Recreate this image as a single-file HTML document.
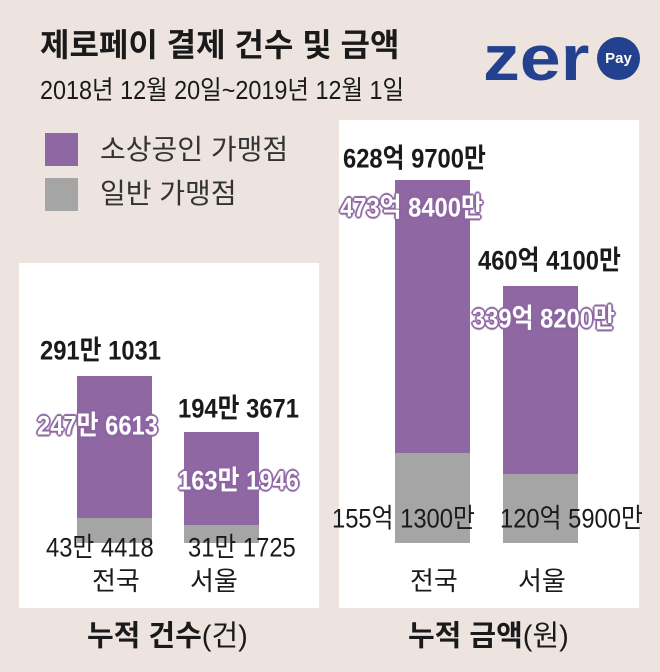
<!DOCTYPE html>
<html><head><meta charset="utf-8"><style>
body{margin:0;width:660px;height:672px;background:#ede4df;position:relative;overflow:hidden;font-family:"Liberation Sans","Noto Sans CJK KR",sans-serif;color:#1a1a1a}
div{position:absolute}
.t{white-space:nowrap;transform-origin:0 50%;line-height:1;transform:translateY(-50%)}
.s{transform:translateY(-50%) scaleX(.88)}
.p{background:#8e67a3}.g{background:#a5a5a5}
.pl{color:#fff;font-weight:bold;text-shadow:0 0 2px #8e67a3,0 0 2px #8e67a3,2px 0 1px #8e67a3,-2px 0 1px #8e67a3,0 2px 1px #8e67a3,0 -2px 1px #8e67a3,1px 1px 1px #8e67a3,-1px -1px 1px #8e67a3,1px -1px 1px #8e67a3,-1px 1px 1px #8e67a3;font-size:27px}
.b{font-weight:bold;font-size:27px}
.n{font-size:27px}
</style></head><body>
<div class="t" style="left:40px;top:45px;font-size:32px;font-weight:bold">제로페이 결제 건수 및 금액</div>
<div class="t" style="left:40px;top:90px;font-size:26px;transform:translateY(-50%) scaleX(.9)">2018년 12월 20일~2019년 12월 1일</div>
<div class="t" style="left:483px;top:58px;font-size:64px;font-weight:bold;color:#23418f;transform:translateY(-50%) scaleX(1.15)">zer</div>
<div style="left:597px;top:37px;width:43px;height:43px;border-radius:50%;background:#23418f;color:#fff;font-size:15px;font-weight:bold;text-align:center;line-height:43px">Pay</div>
<div class="p" style="left:45px;top:133px;width:33px;height:33px"></div>
<div class="g" style="left:45px;top:178px;width:33px;height:33px"></div>
<div class="t" style="left:100px;top:150px;font-size:28px;color:#333">소상공인 가맹점</div>
<div class="t" style="left:100px;top:194px;font-size:28px;color:#333">일반 가맹점</div>
<div style="left:19px;top:263px;width:300px;height:345px;background:#fff"></div>
<div style="left:339px;top:120px;width:300px;height:488px;background:#fff"></div>
<div class="p" style="left:77px;top:376px;width:75px;height:142px"></div>
<div class="g" style="left:77px;top:518px;width:75px;height:25px"></div>
<div class="p" style="left:184px;top:432px;width:75px;height:93px"></div>
<div class="g" style="left:184px;top:525px;width:75px;height:18px"></div>
<div class="p" style="left:395px;top:180px;width:75px;height:273px"></div>
<div class="g" style="left:395px;top:453px;width:75px;height:90px"></div>
<div class="p" style="left:503px;top:286px;width:75px;height:188px"></div>
<div class="g" style="left:503px;top:474px;width:75px;height:69px"></div>
<div class="t b s" style="left:40px;top:351px">291만 1031</div>
<div class="t pl s" style="left:37px;top:426px">247만 6613</div>
<div class="t n s" style="left:46px;top:548px">43만 4418</div>
<div class="t b s" style="left:178px;top:409px">194만 3671</div>
<div class="t pl s" style="left:178px;top:481px">163만 1946</div>
<div class="t n s" style="left:188px;top:548px">31만 1725</div>
<div class="t" style="left:92px;top:581px;font-size:26px">전국</div>
<div class="t" style="left:190px;top:581px;font-size:26px">서울</div>
<div class="t b s" style="left:343px;top:159px">628억 9700만</div>
<div class="t pl s" style="left:340px;top:208px">473억 8400만</div>
<div class="t b s" style="left:478px;top:261px">460억 4100만</div>
<div class="t pl s" style="left:472px;top:319px">339억 8200만</div>
<div class="t n s" style="left:332px;top:519px">155억 1300만</div>
<div class="t n s" style="left:500px;top:519px">120억 5900만</div>
<div class="t" style="left:410px;top:581px;font-size:26px">전국</div>
<div class="t" style="left:518px;top:581px;font-size:26px">서울</div>
<div class="t" style="left:87px;top:637px;font-size:29px"><b>누적 건수</b>(건)</div>
<div class="t" style="left:408px;top:637px;font-size:29px"><b>누적 금액</b>(원)</div>
</body></html>
